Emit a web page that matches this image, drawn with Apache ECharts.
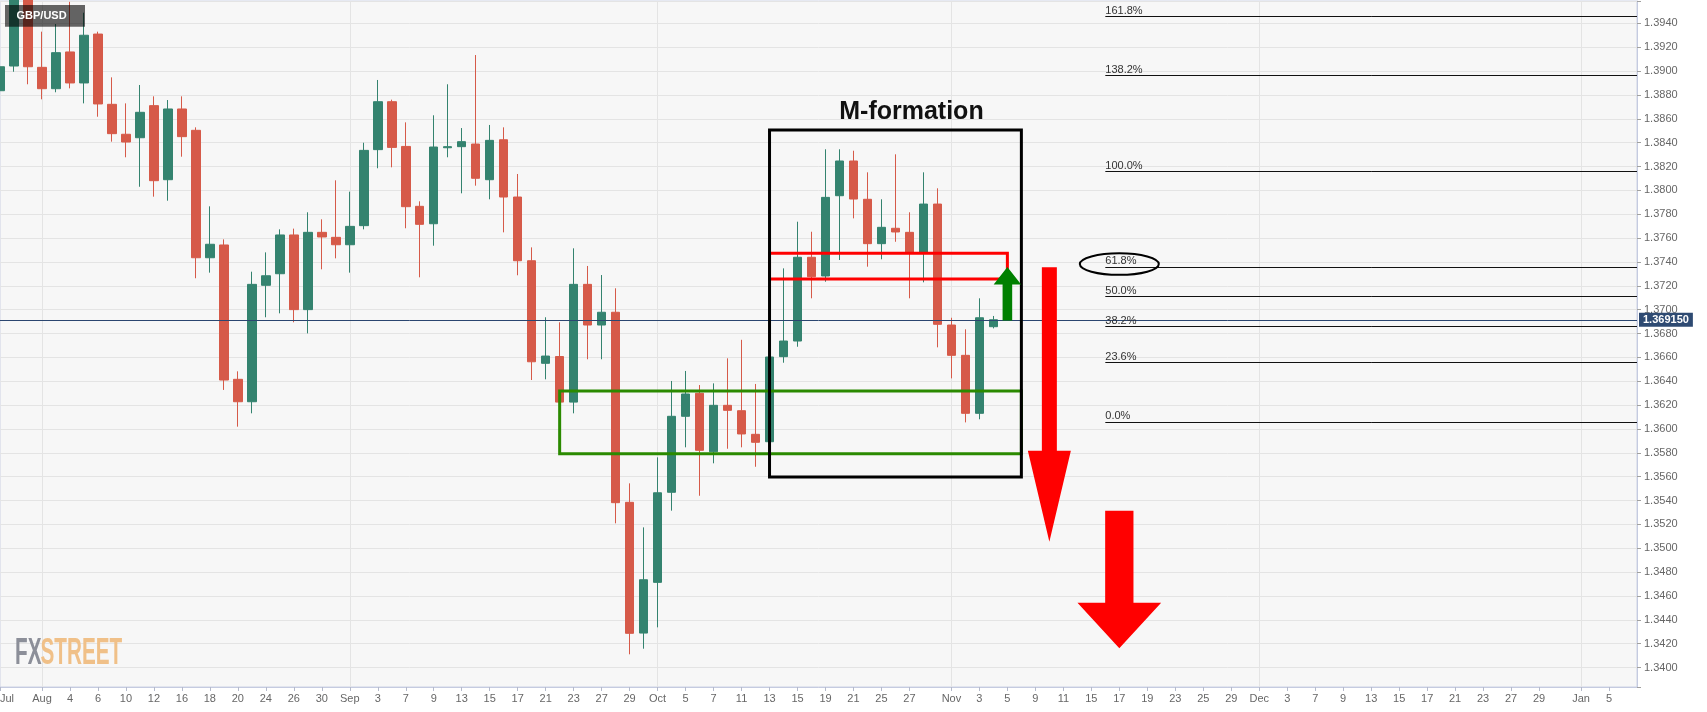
<!DOCTYPE html>
<html>
<head>
<meta charset="utf-8">
<script src="https://cdn.jsdelivr.net/npm/echarts@6/dist/echarts.min.js"></script>
<style>
html,body{margin:0;padding:0;background:#ffffff;}
#c{width:1707px;height:712px;}
</style>
</head>
<body>
<div id="c"></div>
<script>
// ---------------- DATA ----------------
const categories = [
'Jul 28','Jul 29','Jul 30',
'Aug 2','Aug 3','Aug 4','Aug 5','Aug 6','Aug 9','Aug 10','Aug 11','Aug 12','Aug 13','Aug 16','Aug 17','Aug 18','Aug 19','Aug 20','Aug 23','Aug 24','Aug 25','Aug 26','Aug 27','Aug 30','Aug 31',
'Sep 1','Sep 2','Sep 3','Sep 6','Sep 7','Sep 8','Sep 9','Sep 10','Sep 13','Sep 14','Sep 15','Sep 16','Sep 17','Sep 20','Sep 21','Sep 22','Sep 23','Sep 24','Sep 27','Sep 28','Sep 29','Sep 30',
'Oct 1','Oct 4','Oct 5','Oct 6','Oct 7','Oct 8','Oct 11','Oct 12','Oct 13','Oct 14','Oct 15','Oct 18','Oct 19','Oct 20','Oct 21','Oct 22','Oct 25','Oct 26','Oct 27','Oct 28','Oct 29',
'Nov 1','Nov 2','Nov 3','Nov 4','Nov 5','Nov 8','Nov 9','Nov 10','Nov 11','Nov 12','Nov 15','Nov 16','Nov 17','Nov 18','Nov 19','Nov 22','Nov 23','Nov 24','Nov 25','Nov 26','Nov 29','Nov 30',
'Dec 1','Dec 2','Dec 3','Dec 6','Dec 7','Dec 8','Dec 9','Dec 10','Dec 13','Dec 14','Dec 15','Dec 16','Dec 17','Dec 20','Dec 21','Dec 22','Dec 23','Dec 24','Dec 27','Dec 28','Dec 29','Dec 30','Dec 31',
'Jan 3','Jan 4','Jan 5','Jan 6','Jan 7'];

// daily OHLC, Jul 28 .. Nov 4 (first 72 categories)
const openP = [
1.38835,1.39042,1.3962,
1.39031,1.38852,1.3916,1.3890,1.3931,1.38721,1.3847,1.38441,1.3871,1.38089,1.38682,1.38503,1.37435,1.37542,1.36416,1.36228,1.37204,1.37301,1.37626,1.3700,1.37648,1.37606,
1.37544,1.37704,1.38341,1.38743,1.38368,1.37866,1.3772,1.38357,1.38366,1.38388,1.38089,1.38424,1.37944,1.3741,1.3655,1.36607,1.36225,1.37212,1.36871,1.36978,1.35385,1.34289,
1.34714,1.35469,1.36106,1.36299,1.35809,1.36198,1.36153,1.35955,1.35893,1.36606,1.36737,1.37439,1.37282,1.37955,1.38246,1.37925,1.37553,1.37682,1.37648,1.37483,1.37885,
1.36871,1.36617,1.36131,1.36857];
const closeP = [
1.39036,1.3962,1.39036,
1.38852,1.39154,1.3890,1.3930,1.38724,1.38475,1.38405,1.38654,1.38081,1.38682,1.3845,1.37435,1.37548,1.3641,1.36228,1.37212,1.37284,1.37626,1.3700,1.37648,1.37609,1.37544,
1.37698,1.38335,1.38743,1.3836,1.37863,1.37715,1.38363,1.38366,1.38408,1.38101,1.38419,1.37944,1.3741,1.36563,1.36611,1.36225,1.37212,1.36871,1.36978,1.35382,1.34287,1.34736,
1.35465,1.36106,1.36293,1.35821,1.36198,1.36156,1.35958,1.35888,1.36603,1.36737,1.37439,1.37276,1.37941,1.38246,1.37927,1.37553,1.3769,1.37651,1.37477,1.37885,1.36877,
1.36617,1.36131,1.36932,1.36915];
const lowP = [
1.38428,1.38994,1.38889,
1.38763,1.38822,1.38855,1.38729,1.38617,1.38408,1.38277,1.3803,1.37947,1.37913,1.38282,1.37263,1.3731,1.36327,1.36019,1.36131,1.36936,1.36969,1.36894,1.36801,1.37338,1.3743,
1.3731,1.37673,1.38185,1.38193,1.37682,1.37271,1.37536,1.38277,1.37975,1.38039,1.37925,1.37648,1.37288,1.3641,1.36416,1.36209,1.36131,1.36584,1.36584,1.35209,1.34111,1.34158,
1.34337,1.35315,1.35846,1.3544,1.35712,1.35834,1.35846,1.35683,1.3588,1.36555,1.36689,1.37095,1.37234,1.37416,1.37765,1.3736,1.37422,1.37569,1.37095,1.37229,1.36684,
1.36424,1.36055,1.36081,1.36843];
const highP = [
1.3912,1.3985,1.3984,
1.3933,1.39394,1.3958,1.39489,1.3933,1.38947,1.38729,1.38883,1.38788,1.38757,1.38788,1.38528,1.37866,1.37589,1.36483,1.37318,1.3748,1.37673,1.37679,1.37816,1.37757,1.38084,
1.37989,1.38399,1.38925,1.3876,1.3857,1.37908,1.38629,1.38889,1.38522,1.39134,1.38548,1.38528,1.38137,1.37522,1.36936,1.36894,1.37514,1.37366,1.3729,1.37179,1.35544,1.35175,
1.35762,1.36402,1.36486,1.36368,1.36382,1.36592,1.36747,1.36377,1.3661,1.37346,1.37737,1.37653,1.38344,1.38344,1.38332,1.38151,1.37925,1.38302,1.37816,1.38151,1.38017,
1.36932,1.36835,1.37095,1.36947];

const lastPrice = 1.36915;

// x-axis tick labels
const tickDates = ['Jul 28','Aug 2','Aug 4','Aug 6','Aug 10','Aug 12','Aug 16','Aug 18','Aug 20','Aug 24','Aug 26','Aug 30',
'Sep 1','Sep 3','Sep 7','Sep 9','Sep 13','Sep 15','Sep 17','Sep 21','Sep 23','Sep 27','Sep 29',
'Oct 1','Oct 5','Oct 7','Oct 11','Oct 13','Oct 15','Oct 19','Oct 21','Oct 25','Oct 27',
'Nov 1','Nov 3','Nov 5','Nov 9','Nov 11','Nov 15','Nov 17','Nov 19','Nov 23','Nov 25','Nov 29',
'Dec 1','Dec 3','Dec 7','Dec 9','Dec 13','Dec 15','Dec 17','Dec 21','Dec 23','Dec 27','Dec 29',
'Jan 3','Jan 5'];
const tickTexts = ['Jul','Aug','4','6','10','12','16','18','20','24','26','30',
'Sep','3','7','9','13','15','17','21','23','27','29',
'Oct','5','7','11','13','15','19','21','25','27',
'Nov','3','5','9','11','15','17','19','23','25','29',
'Dec','3','7','9','13','15','17','21','23','27','29',
'Jan','5'];
const monthStarts = ['Aug 2','Sep 1','Oct 1','Nov 1','Dec 1','Jan 3'];

// Fibonacci retracement anchors and levels
const fibLow = 1.3606;
const fibHigh = 1.3816;
const fibLevels = [0, 23.6, 38.2, 50, 61.8, 100, 138.2, 161.8];
const fibStart = 'Nov 16';
const fibEnd = 'Jan 7';

// visible price range of the plot
const yMin = 1.33837;
const yMax = 1.39587;

// ---------------- CHART ----------------
const FONT = '"Liberation Sans", Arial, sans-serif';
const GREEN = '#34836f';
const RED = '#d65a49';
const tickMap = {};
tickDates.forEach((d, i) => { tickMap[d] = tickTexts[i]; });
const monthSet = new Set(monthStarts);
const candles = openP.map((o, i) => [o, closeP[i], lowP[i], highP[i]]);
const fibValue = p => fibLow + (fibHigh - fibLow) * p / 100;
const isStep = v => Math.abs(v / 0.002 - Math.round(v / 0.002)) < 1e-6;
const firstIdx = 0, lastIdx = categories.length - 1;

const chart = echarts.init(document.getElementById('c'), null, {renderer: 'canvas', width: 1707, height: 712});

const fibLineStyle = {color: '#111111', width: 1, type: 'solid'};
const fibLines = fibLevels.map(p => {
  const lab = {show: true, position: 'insideStartTop', formatter: p.toFixed(1) + '%', color: '#333333',
               fontSize: 11, fontFamily: FONT, distance: [0, 0]};
  return [
    {coord: [categories.indexOf(fibStart), fibValue(p)], lineStyle: fibLineStyle, label: lab},
    {coord: [categories.indexOf(fibEnd), fibValue(p)], lineStyle: fibLineStyle, label: lab}
  ];
});

const priceLineStyle = {color: '#2b4670', width: 1, type: 'solid'};
const priceLabel = {show: true, position: 'end', formatter: lastPrice.toFixed(6), color: '#ffffff',
                    backgroundColor: '#2e4a72', fontWeight: 'bold', fontSize: 11, fontFamily: FONT,
                    padding: [2, 4, 1, 4], distance: 2};

const option = {
  animation: false,
  backgroundColor: '#ffffff',
  grid: {left: 0, right: 70, top: 1, bottom: 25, show: true, backgroundColor: '#f7f7f7',
         borderColor: '#cdd2e4', borderWidth: 1, containLabel: false, outerBoundsMode: 'none'},
  xAxis: {
    type: 'category', data: categories, boundaryGap: false,
    axisLine: {show: true, lineStyle: {color: '#c5cbe0', width: 1}},
    axisTick: {show: true, length: 4, interval: (i, v) => (v in tickMap), lineStyle: {color: '#b5bacb'}},
    axisLabel: {interval: (i, v) => (v in tickMap), formatter: v => tickMap[v] || '', color: '#666666',
                fontSize: 11, fontFamily: FONT, margin: 6, alignMinLabel: 'left'},
    splitLine: {show: true, interval: (i, v) => monthSet.has(v), lineStyle: {color: '#e4e4e4', width: 1}}
  },
  yAxis: {
    type: 'value', position: 'right', min: yMin, max: yMax, splitNumber: 29,
    minInterval: 0.002, maxInterval: 0.002,
    axisLine: {show: true, lineStyle: {color: '#c5cbe0', width: 1}},
    axisTick: {show: true, length: 4, lineStyle: {color: '#a0a0a0'}},
    axisLabel: {color: '#666666', fontSize: 11, fontFamily: FONT, margin: 7,
                formatter: v => isStep(v) ? v.toFixed(4) : ''},
    splitLine: {show: true, lineStyle: {color: '#e4e4e4', width: 1}}
  },
  series: [{
    type: 'candlestick',
    data: candles,
    barWidth: 9,
    clip: true,
    itemStyle: {color: GREEN, color0: RED, borderColor: GREEN, borderColor0: RED, borderWidth: 1},
    markLine: {
      silent: true, symbol: ['none', 'none'], animation: false, precision: 6,
      data: [[
        {coord: [firstIdx, lastPrice], lineStyle: priceLineStyle, label: priceLabel},
        {coord: [lastIdx, lastPrice], lineStyle: priceLineStyle, label: priceLabel}
      ]].concat(fibLines)
    }
  }]
};
chart.setOption(option);

// ---------------- ANNOTATIONS (anchored in data space) ----------------
const px = (d, v) => chart.convertToPixel({gridIndex: 0}, [categories.indexOf(d), v]);

function box(d1, v1, d2, v2, color, w, z) {
  const a = px(d1, v1), b = px(d2, v2);
  return {type: 'rect', z: z, silent: true,
          shape: {x: a[0], y: a[1], width: b[0] - a[0], height: b[1] - a[1]},
          style: {fill: 'none', stroke: color, lineWidth: w}};
}
function arrow(d, vStart, vTip, shaftW, headW, headLen, color) {
  const s = px(d, vStart), t = px(d, vTip);
  const dir = t[1] > s[1] ? 1 : -1;
  const cx = s[0], baseY = t[1] - dir * headLen;
  return {type: 'polygon', z: 60, silent: true,
          shape: {points: [[cx - shaftW / 2, s[1]], [cx + shaftW / 2, s[1]], [cx + shaftW / 2, baseY],
                           [cx + headW / 2, baseY], [cx, t[1]], [cx - headW / 2, baseY], [cx - shaftW / 2, baseY]]},
          style: {fill: color, stroke: null}};
}

const mTop = px('Oct 13', 1.38506), mRight = px('Nov 8', 1.38506);
const ell = px('Nov 17', 1.37382);

chart.setOption({
  graphic: [
    box('Sep 22', 1.36318, 'Nov 8', 1.35792, '#2b8a00', 3, 50),
    box('Oct 13', 1.37472, 'Nov 5', 1.37257, '#ff0000', 3, 51),
    box('Oct 13', 1.38506, 'Nov 8', 1.35597, '#000000', 3, 52),
    {type: 'text', z: 55, silent: true, x: (mTop[0] + mRight[0]) / 2 + 16, y: mTop[1] - 18,
     style: {text: 'M-formation', font: 'bold 25px ' + FONT, fill: '#111111',
             textAlign: 'center', textVerticalAlign: 'middle', align: 'center', verticalAlign: 'middle'}},
    arrow('Nov 5', 1.36908, fibValue(61.8), 9.6, 27.5, 17.5, '#008000'),
    arrow('Nov 10', 1.37355, 1.35055, 15, 43, 91, '#ff0000'),
    arrow('Nov 17', 1.35315, 1.34161, 28.3, 83.7, 45.6, '#ff0000'),
    {type: 'ellipse', z: 58, silent: true, shape: {cx: ell[0], cy: ell[1], rx: 39.5, ry: 10.8},
     style: {fill: 'none', stroke: '#000000', lineWidth: 2}},
    // symbol tag
    {type: 'rect', z: 70, silent: true, shape: {x: 5, y: 5, width: 80, height: 21.7},
     style: {fill: 'rgba(0,0,0,0.6)'}},
    {type: 'text', z: 71, silent: true, x: 16.5, y: 16,
     style: {text: 'GBP/USD', font: 'bold 11px ' + FONT, fill: '#ffffff',
             textAlign: 'left', textVerticalAlign: 'middle', align: 'left', verticalAlign: 'middle'}},
    // watermark
    {type: 'text', z: 40, silent: true, x: 15, y: 653.5, scaleX: 0.56,
     style: {text: 'FX', font: 'bold 37px ' + FONT, fill: '#8c8f99',
             textAlign: 'left', textVerticalAlign: 'middle', align: 'left', verticalAlign: 'middle'}},
    {type: 'text', z: 40, silent: true, x: 40.5, y: 653.5, scaleX: 0.56,
     style: {text: 'STREET', font: 'bold 37px ' + FONT, fill: '#f0c088',
             textAlign: 'left', textVerticalAlign: 'middle', align: 'left', verticalAlign: 'middle'}}
  ]
});
</script>
</body>
</html>
